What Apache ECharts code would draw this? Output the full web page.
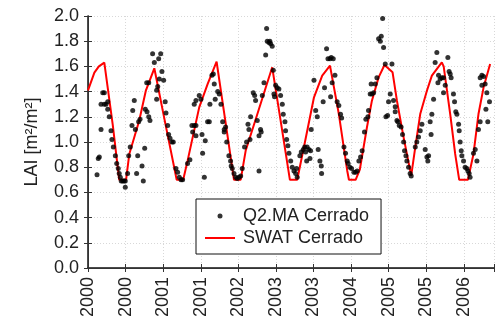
<!DOCTYPE html>
<html>
<head>
<meta charset="utf-8">
<script src="https://cdn.jsdelivr.net/npm/echarts@6/dist/echarts.min.js"></script>
<style>
  html, body { margin: 0; padding: 0; background: #fff; }
  #main { width: 503px; height: 323px; }
</style>
</head>
<body>
<div id="main"></div>
<script>
// x values are days since 2000-01-01, tick every 242 days
const xTickLabels = ["2000", "2000", "2001", "2001", "2002", "2003", "2003", "2004", "2005", "2005", "2006"];

const swatDay = [0, 41, 70, 105, 159, 201, 245, 266, 330, 373, 427, 499, 571, 613, 641, 716, 770, 828, 884, 940, 983,
  1015, 1090, 1144, 1186, 1244, 1300, 1347, 1390, 1455, 1508, 1558, 1615, 1669, 1680, 1723, 1750, 1796, 1828, 1871,
  1909, 1961, 1989, 2032, 2081, 2107, 2139, 2182, 2214, 2278, 2290, 2332, 2364, 2390, 2446, 2482, 2514, 2547, 2589];
const swatLai = [1.41, 1.55, 1.60, 1.63, 1.14, 0.70, 0.70, 0.905, 1.17, 1.41, 1.585, 1.14, 0.70, 0.70, 0.85, 1.275, 1.46, 1.637, 1.17, 0.70, 0.70,
  0.93, 1.22, 1.43, 1.593, 1.14, 0.70, 0.70, 0.958, 1.355, 1.527, 1.606, 1.222, 0.772, 0.70, 0.70, 0.78, 1.117, 1.328, 1.513,
  1.611, 1.553, 1.328, 1.037, 0.733, 0.958, 1.222, 1.407, 1.527, 1.632, 1.60, 1.222, 0.905, 0.70, 0.70, 0.905, 1.222, 1.434, 1.619];

const q2Day = [58, 66, 73, 84, 84, 105, 116, 95, 105, 127, 127, 137, 148, 154, 163, 176, 185, 195, 201, 208, 214, 223, 232, 240, 240,
  255, 262, 272, 283, 288, 298, 305, 320, 313, 326, 335, 348, 356, 365, 369, 380, 391, 399, 378, 391, 416, 427, 442, 442, 449,
  459, 455, 468, 476, 487, 497, 502, 513, 519, 528, 541, 549, 566, 577, 588, 599, 609, 641, 656, 669, 684, 695, 674, 695, 684,
  695, 716, 727, 734, 755, 738, 749, 770, 781, 785, 798, 807, 813, 819, 835, 845, 856, 867, 877, 877, 886, 893, 907, 918, 922,
  929, 940, 951, 961, 972, 983, 993, 1008, 1021, 1030, 1036, 1047, 1043, 1064, 1073, 1079, 1090, 1101, 1111, 1115, 1101, 1122,
  1133, 1144, 1150, 1154, 1165, 1171, 1176, 1186, 1193, 1197, 1201, 1208, 1218, 1229, 1240, 1251, 1257, 1268, 1272, 1279, 1287,
  1294, 1305, 1315, 1326, 1337, 1347, 1343, 1364, 1373, 1386, 1395, 1401, 1411, 1422, 1433, 1408, 1429, 1437, 1455, 1466, 1476,
  1482, 1493, 1502, 1504, 1514, 1523, 1536, 1545, 1558, 1566, 1579, 1562, 1572, 1590, 1604, 1615, 1626, 1633, 1648, 1658, 1669,
  1675, 1686, 1697, 1712, 1723, 1733, 1744, 1755, 1765, 1780, 1789, 1802, 1806, 1817, 1828, 1839, 1849, 1860, 1823, 1871, 1888,
  1882, 1903, 1897, 1914, 1957, 1918, 1929, 1935, 1946, 1967, 1978, 1978, 1989, 1995, 2004, 2016, 2025, 2032, 2038, 2047, 2053,
  2064, 2074, 2081, 2107, 2117, 2128, 2139, 2150, 2171, 2182, 2193, 2188, 2203, 2209, 2214, 2225, 2235, 2246, 2253, 2267, 2278,
  2289, 2257, 2289, 2300, 2317, 2325, 2332, 2338, 2353, 2360, 2368, 2375, 2386, 2390, 2396, 2403, 2407, 2418, 2428, 2439, 2446,
  2454, 2460, 2482, 2493, 2504, 2514, 2525, 2525, 2536, 2547, 2536, 2557, 2568, 2585, 2562, 2574];
const q2Lai = [0.74, 0.87, 0.88, 1.10, 1.30, 1.30, 1.30, 1.39, 1.39, 1.32, 1.26, 1.20, 1.09, 1.02, 0.96, 0.89, 0.83, 0.79, 0.75, 0.72, 0.69, 0.69, 0.69, 0.69, 0.64,
  0.75, 0.89, 0.96, 1.13, 1.25, 1.33, 1.10, 0.89, 0.75, 1.16, 1.18, 0.81, 0.69, 0.95, 1.26, 1.24, 1.20, 1.17, 1.47, 1.47, 1.70, 1.63, 1.41, 1.34, 1.44,
  1.50, 1.66, 1.70, 1.56, 1.49, 1.32, 1.23, 1.13, 1.06, 1.03, 1.00, 1.00, 0.79, 0.76, 0.72, 0.70, 0.70, 0.83, 0.86, 1.13, 1.13, 1.13, 1.08, 1.05, 1.30,
  1.33, 1.37, 1.34, 1.06, 1.01, 0.91, 0.72, 1.16, 1.16, 1.30, 1.53, 1.54, 1.46, 1.34, 1.40, 1.38, 1.30, 1.16, 1.10, 1.08, 1.12, 1.00, 0.89, 0.85, 0.81,
  0.79, 0.75, 0.72, 0.71, 0.72, 0.73, 0.79, 0.96, 1.00, 1.14, 1.10, 1.20, 1.02, 1.39, 1.37, 1.33, 1.17, 1.05, 1.10, 1.08, 0.77, 1.37,
  1.47, 1.69, 1.90, 1.80, 1.79, 1.80, 1.78, 1.76, 1.57, 1.38, 1.36, 1.45, 1.43, 1.42, 1.37, 1.30, 1.22, 1.16, 1.09, 1.02, 0.97,
  0.91, 0.85, 0.80, 0.77, 0.75, 0.72, 0.79, 0.89, 0.92, 0.94, 0.96, 0.92, 0.96, 0.94, 0.93, 0.85, 0.87, 1.10, 1.49, 1.25, 1.20,
  0.94, 0.85, 0.81, 0.75, 1.32, 1.43, 1.74, 1.66, 1.66, 1.67, 1.66, 1.36, 1.47, 1.53, 1.32, 1.29, 1.22, 1.19, 0.96, 0.91, 0.85,
  0.83, 0.80, 0.79, 0.76, 0.76, 0.77, 0.85, 0.88, 0.93, 1.08, 1.18, 1.20, 1.25, 1.38, 1.38, 1.39, 1.46, 1.51, 1.46, 1.82, 1.84,
  1.80, 1.75, 1.98, 1.62, 1.62, 1.20, 1.21, 1.32, 1.38, 1.33, 1.28, 1.24, 1.17, 1.16, 1.13, 1.12, 1.06, 1.00, 0.93, 0.89, 0.85,
  0.80, 0.75, 0.73, 0.96, 1.00, 1.04, 1.09, 1.14, 0.94, 0.88, 0.89, 0.85, 1.16, 1.06, 1.22, 1.34, 1.63, 1.71, 1.47, 1.50, 1.51,
  1.51, 1.53, 1.39, 1.45, 1.67, 1.56, 1.54, 1.51, 1.38, 1.32, 1.24, 1.22, 1.14, 1.09, 1.00, 0.93, 0.89, 0.85, 0.80, 0.79, 0.77,
  0.75, 0.72, 0.91, 0.94, 0.85, 1.10, 1.16, 1.51, 1.53, 1.52, 1.45, 1.46, 1.39, 1.32, 1.26, 1.16];

const tickDays = 242;
const xMax = 2614;
const font = "'Liberation Sans', Arial, sans-serif";
const textColor = "#222";

const chartDom = document.getElementById("main");
const myChart = echarts.init(chartDom, null, { renderer: "canvas" });

const boxAxisLine = { show: true, lineStyle: { color: "#333", width: 1 } };
const gridLine = { show: true, lineStyle: { color: "#d8d8d8", type: [1, 2], width: 1 } };

const option = {
  animation: false,
  backgroundColor: "#fff",
  grid: { left: 88, top: 16, right: 9, bottom: 55 },
  legend: {
    orient: "vertical",
    left: 196,
    top: 199,
    width: 189,
    padding: [8, 12, 7, 9],
    itemGap: 4,
    itemWidth: 30,
    itemHeight: 5,
    symbolKeepAspect: true,
    backgroundColor: "#fff",
    borderColor: "#111",
    borderWidth: 1,
    textStyle: { fontFamily: font, fontSize: 18, color: textColor, padding: [0, 0, 0, 3] },
    data: [
      { name: "Q2.MA Cerrado", icon: "circle" },
      { name: "SWAT Cerrado", icon: "path://M0,0 L30,0 L30,2 L0,2 Z" }
    ]
  },
  xAxis: [
    {
      type: "value",
      min: 0,
      max: xMax,
      interval: tickDays,
      axisLine: { show: true, onZero: false, lineStyle: { color: "#111", width: 1.5 } },
      axisTick: { show: true, inside: true, length: 4, lineStyle: { color: "#333" } },
      splitLine: gridLine,
      axisLabel: {
        rotate: 90,
        margin: 9,
        fontFamily: font,
        fontSize: 18,
        color: textColor,
        formatter: (v) => {
          const i = Math.round(v / tickDays);
          return Math.abs(v - i * tickDays) < 1 && xTickLabels[i] ? xTickLabels[i] : "";
        }
      }
    },
    {
      type: "value",
      position: "top",
      min: 0,
      max: xMax,
      interval: tickDays,
      axisLine: boxAxisLine,
      axisTick: { show: true, inside: true, length: 4, lineStyle: { color: "#333" } },
      axisLabel: { show: false },
      splitLine: { show: false }
    }
  ],
  yAxis: [
    {
      type: "value",
      min: 0,
      max: 2,
      interval: 0.2,
      name: "LAI [m²/m²]",
      nameLocation: "middle",
      nameRotate: 90,
      nameGap: 47,
      nameTextStyle: { fontFamily: font, fontSize: 18, color: textColor },
      axisLine: { show: true, lineStyle: { color: "#111", width: 1.5 } },
      axisTick: { show: true, inside: true, length: 4, lineStyle: { color: "#333" } },
      splitLine: gridLine,
      axisLabel: {
        margin: 9,
        fontFamily: font,
        fontSize: 18,
        color: textColor,
        formatter: (v) => v.toFixed(1)
      }
    },
    {
      type: "value",
      position: "right",
      min: 0,
      max: 2,
      interval: 0.2,
      axisLine: boxAxisLine,
      axisTick: { show: true, inside: true, length: 4, lineStyle: { color: "#333" } },
      axisLabel: { show: false },
      splitLine: { show: false }
    }
  ],
  series: [
    {
      name: "Q2.MA Cerrado",
      type: "scatter",
      symbol: "circle",
      symbolSize: 5,
      itemStyle: { color: "#000" },
      data: q2Day.map((d, i) => [d, q2Lai[i]]),
      z: 3
    },
    {
      name: "SWAT Cerrado",
      type: "line",
      showSymbol: false,
      symbol: "none",
      lineStyle: { color: "#ff0000", width: 2 },
      itemStyle: { color: "#ff0000" },
      data: swatDay.map((d, i) => [d, swatLai[i]]),
      z: 2
    }
  ]
};

myChart.setOption(option);
</script>
</body>
</html>
